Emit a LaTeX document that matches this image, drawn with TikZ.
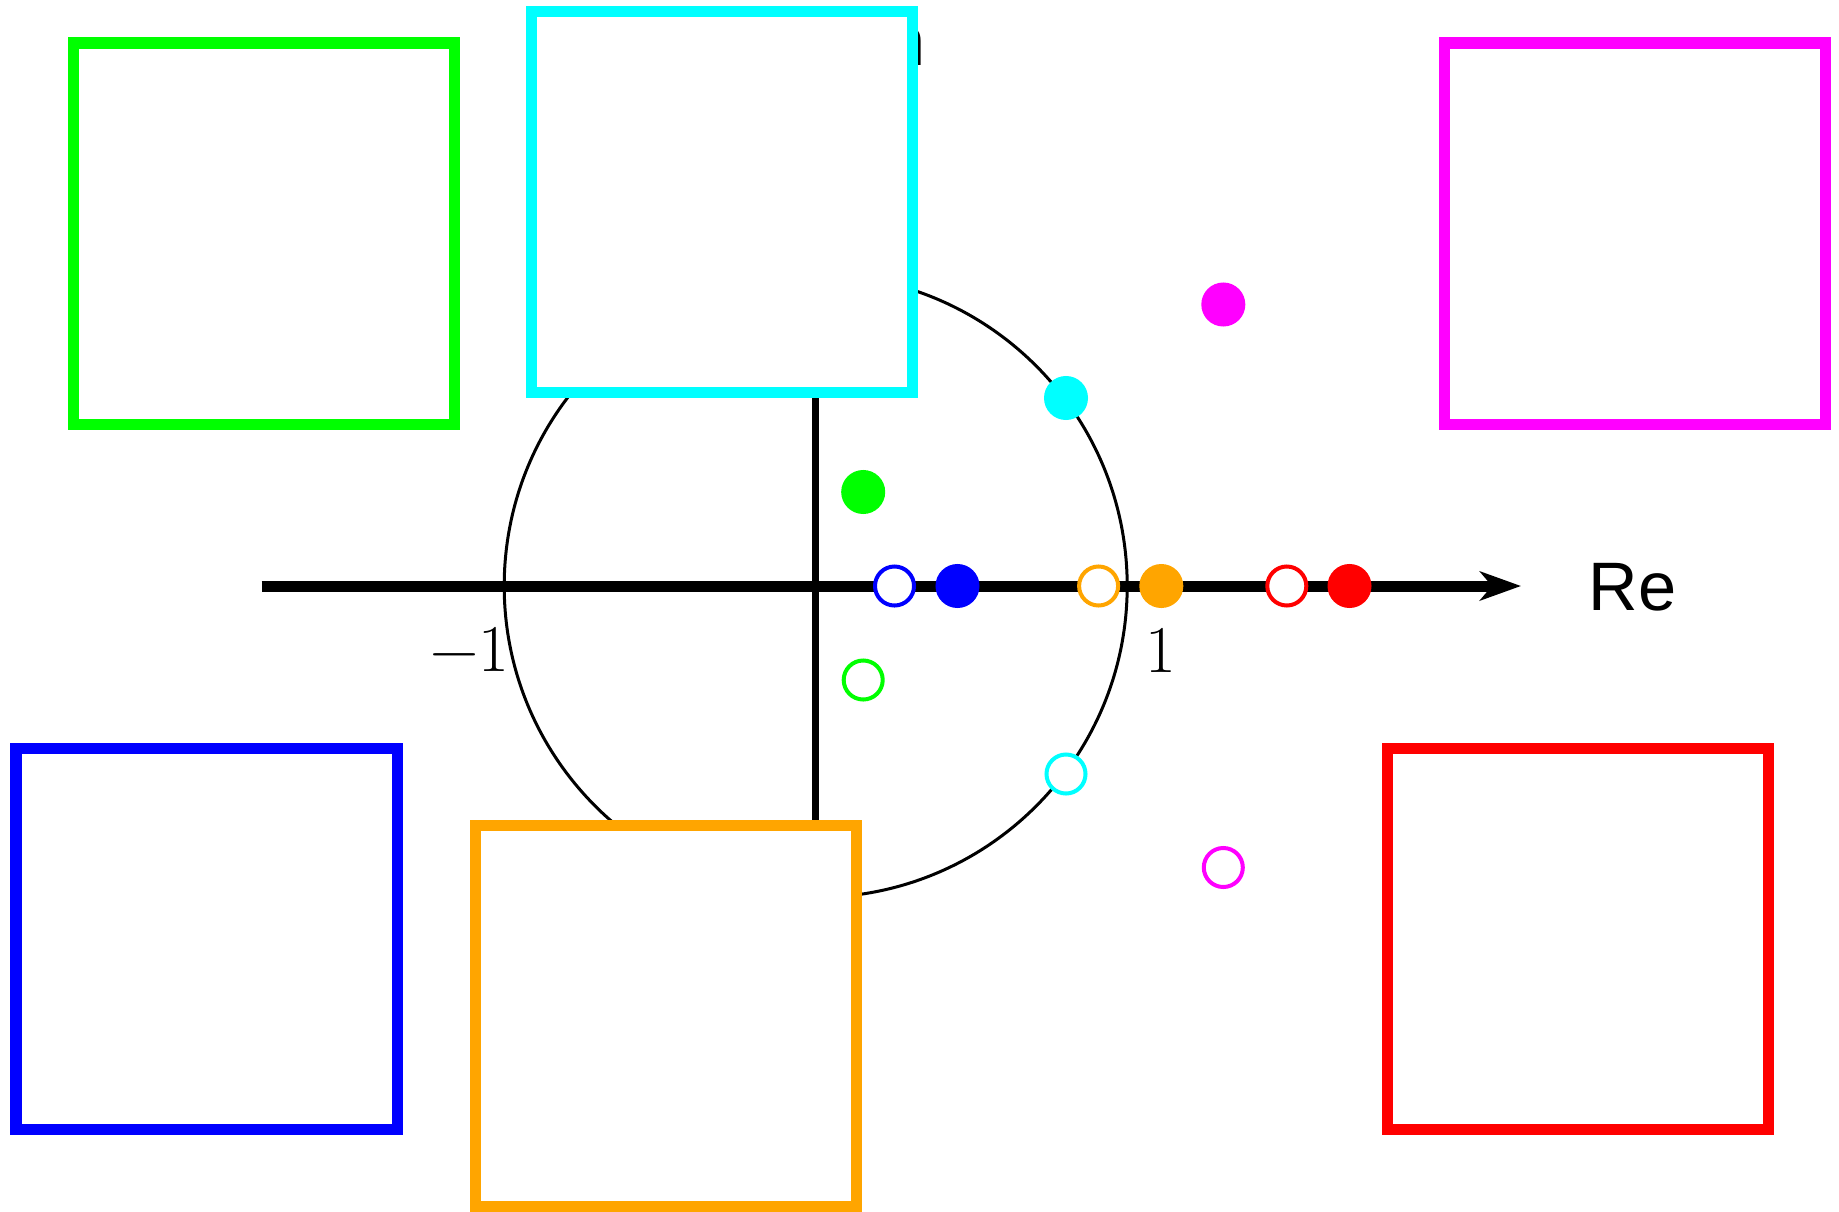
\documentclass[tikz,border=0pt]{standalone}
\usepackage{fontspec}
\newfontfamily\arialfont{Liberation Sans}
\usetikzlibrary{arrows.meta}
\definecolor{zgreen}{RGB}{0,255,0}
\definecolor{zcyan}{RGB}{0,255,255}
\definecolor{zmagenta}{RGB}{255,0,255}
\definecolor{zorange}{RGB}{255,165,0}
\tikzset{
  panel/.style={line width=0.11cm, fill=white},
  full/.style={circle, fill=#1, inner sep=0pt, minimum size=0.44cm},
  hollow/.style={circle, draw=#1, fill=white, line width=0.04cm, inner sep=0pt, minimum size=0.39cm},
  ticklabel/.style={font=\fontsize{19}{23}\selectfont, anchor=base, inner sep=0pt},
  axislabel/.style={font=\arialfont\fontsize{19.5}{23}\selectfont, inner sep=0pt},
}
\begin{document}
\begin{tikzpicture}[x=0.01cm,y=-0.01cm]
\useasboundingbox (0,0) rectangle (1839,1212);
% axes and unit circle
\coordinate (O) at (815.7,586);
\draw[line width=0.07cm] (815.7,840) -- (815.7,70);
\draw[line width=0.11cm,-{Stealth[length=0.41cm,width=0.29cm,inset=0.12cm]}] (261.5,586) -- (1521,586);
\draw[line width=0.03cm] (O) circle[radius=311.5];
\node[ticklabel] (m1) at (470,671) {−1};
\node[ticklabel] (p1) at (1161,672) {1};
\node[axislabel, anchor=base west] (re) at (1588,610) {Re};
\node[axislabel, anchor=base east] (im) at (926,65) {Im};
% poles and zeros
\node[full=zmagenta] (pa) at (1223.3,304.5) {};
\node[full=zcyan] (pb) at (1066,398) {};
\node[full=zgreen] (pc) at (863.2,492) {};
\node[hollow=blue] (za) at (894.5,586) {};
\node[full=blue] (pd) at (957.5,586) {};
\node[hollow=zorange] (zb) at (1098.6,586) {};
\node[full=zorange] (pe) at (1161.3,586) {};
\node[hollow=red] (zc) at (1286.8,586) {};
\node[full=red] (pf) at (1349.5,586) {};
\node[hollow=zgreen] (zd) at (863.2,680) {};
\node[hollow=zcyan] (ze) at (1066,774) {};
\node[hollow=zmagenta] (zf) at (1223.3,867.5) {};
% panels
\draw[panel, draw=zgreen] (73.5,43) rectangle (454.5,424);
\draw[panel, draw=zcyan] (531.5,11.5) rectangle (912,392.5);
\draw[panel, draw=zmagenta] (1444,43) rectangle (1825,424);
\draw[panel, draw=blue] (16,748.5) rectangle (397,1129.5);
\draw[panel, draw=zorange] (475,825) rectangle (856,1206);
\draw[panel, draw=red] (1387,748.5) rectangle (1768,1129.5);
\end{tikzpicture}
\end{document}
